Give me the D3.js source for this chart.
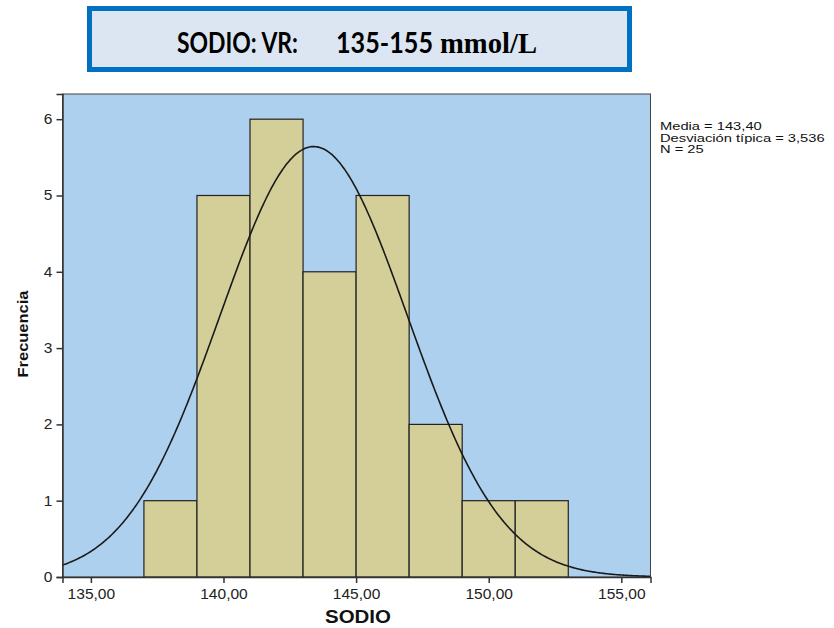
<!DOCTYPE html>
<html>
<head>
<meta charset="utf-8">
<script src="https://cdn.jsdelivr.net/npm/d3@7"></script>
<style>
  body { margin: 0; background: #fff; }
  text { font-family: Arial, "Liberation Sans", sans-serif; }
</style>
</head>
<body>
<div id="chart"></div>
<script>
// histogram data
var binStarts = [137, 139, 141, 143, 145, 147, 149, 151];
var binWidth = 2;
var frequencies = [1, 5, 6, 4, 5, 2, 1, 1];
var xTicks = [135, 140, 145, 150, 155];
var yTicks = [0, 1, 2, 3, 4, 5, 6];
var media = 143.40;
var desviacion = 3.536;
var n = 25;
var statLines = ["Media = 143,40", "Desviación típica = 3,536", "N = 25"];

var w = 834;
var h = 628;
var plot = { left: 62.5, right: 650.5, top: 94, bottom: 577 };

var svg = d3.select("#chart")
    .append("svg")
    .attr("width", w)
    .attr("height", h);

// title box
svg.append("rect")
    .attr("x", 89.5).attr("y", 8.5)
    .attr("width", 540).attr("height", 61)
    .attr("fill", "#dce6f2")
    .attr("stroke", "#0070c0")
    .attr("stroke-width", 5);

var title = svg.append("text")
    .attr("y", 53)
    .style("font-weight", "bold");
title.append("tspan")
    .attr("x", 177)
    .attr("textLength", 121).attr("lengthAdjust", "spacingAndGlyphs")
    .style("font-family", "Lato, 'Open Sans', sans-serif").style("font-size", "29px")
    .text("SODIO: VR:");
title.append("tspan")
    .attr("x", 336)
    .attr("textLength", 97).attr("lengthAdjust", "spacingAndGlyphs")
    .style("font-family", "Lato, 'Open Sans', sans-serif").style("font-size", "29px")
    .text("135-155");
title.append("tspan")
    .attr("x", 440)
    .attr("textLength", 97).attr("lengthAdjust", "spacingAndGlyphs")
    .style("font-family", "'Liberation Serif', serif").style("font-size", "29px")
    .text("mmol/L");

var xScale = d3.scaleLinear()
    .domain([133.93, 156.1])
    .range([plot.left, plot.right]);

var yScale = d3.scaleLinear()
    .domain([0, 6.33])
    .range([plot.bottom, plot.top]);

// plot background
svg.append("rect")
    .attr("x", plot.left).attr("y", plot.top)
    .attr("width", plot.right - plot.left)
    .attr("height", plot.bottom - plot.top)
    .attr("fill", "#add0ee")
    .attr("stroke", "#444")
    .attr("stroke-width", 1);

// bars
svg.selectAll(".bar")
    .data(frequencies)
    .enter()
    .append("rect")
    .attr("class", "bar")
    .attr("x", function (d, i) { return xScale(binStarts[i]); })
    .attr("y", function (d) { return yScale(d); })
    .attr("width", function (d, i) { return xScale(binStarts[i] + binWidth) - xScale(binStarts[i]); })
    .attr("height", function (d) { return yScale(0) - yScale(d); })
    .attr("fill", "#d4cf98")
    .attr("stroke", "#222")
    .attr("stroke-width", 1.2);

// fitted normal curve (from media, desviacion, n)
var peak = n * binWidth / (desviacion * Math.sqrt(2 * Math.PI));
var curveX = d3.range(xScale.domain()[0], xScale.domain()[1], 0.05);
var line = d3.line()
    .x(function (d) { return xScale(d); })
    .y(function (d) { return yScale(peak * Math.exp(-0.5 * Math.pow((d - media) / desviacion, 2))); })
    .curve(d3.curveBasis);

svg.append("path")
    .datum(curveX)
    .attr("d", line)
    .attr("fill", "none")
    .attr("stroke", "#1a1a1a")
    .attr("stroke-width", 1.6);

// axes
var xAxis = d3.axisBottom(xScale)
    .tickValues(xTicks)
    .tickSize(6)
    .tickFormat(function (d) { return d3.format(".2f")(d).replace(".", ","); });

var yAxis = d3.axisLeft(yScale)
    .tickValues(yTicks)
    .tickSize(6)
    .tickFormat(d3.format("d"));

var gx = svg.append("g")
    .attr("transform", "translate(0," + plot.bottom + ")")
    .call(xAxis);
gx.select(".domain").attr("stroke", "#333").attr("stroke-width", 1.5);
gx.selectAll("line").attr("stroke", "#333").attr("stroke-width", 1.5);
gx.selectAll("text")
    .style("font-size", "14px").attr("fill", "#222")
    .attr("y", 22).attr("dy", null)
    .attr("transform", "scale(1.11,1)");

var gy = svg.append("g")
    .attr("transform", "translate(" + plot.left + ",0)")
    .call(yAxis);
gy.select(".domain").attr("stroke", "#333").attr("stroke-width", 1.5);
gy.selectAll("line").attr("stroke", "#333").attr("stroke-width", 1.5);
gy.selectAll("text").style("font-size", "14px").attr("fill", "#222")
    .attr("transform", "scale(1.11,1)");

// axis titles
svg.append("text")
    .attr("x", 358).attr("y", 623)
    .attr("text-anchor", "middle")
    .attr("textLength", 66).attr("lengthAdjust", "spacingAndGlyphs")
    .style("font-weight", "bold")
    .style("font-size", "17.5px")
    .attr("fill", "#111")
    .text("SODIO");

svg.append("text")
    .attr("transform", "translate(28,334) rotate(-90)")
    .attr("text-anchor", "middle")
    .attr("textLength", 87).attr("lengthAdjust", "spacingAndGlyphs")
    .style("font-weight", "bold")
    .style("font-size", "15.5px")
    .attr("fill", "#111")
    .text("Frecuencia");

// stats
svg.append("g")
    .attr("transform", "translate(660,0) scale(1.28,1)")
    .selectAll("text")
    .data(statLines)
    .enter()
    .append("text")
    .attr("x", 0)
    .attr("y", function (d, i) { return 130.5 + i * 11.4; })
    .style("font-size", "11.5px")
    .attr("fill", "#111")
    .text(function (d) { return d; });
</script>
</body>
</html>
